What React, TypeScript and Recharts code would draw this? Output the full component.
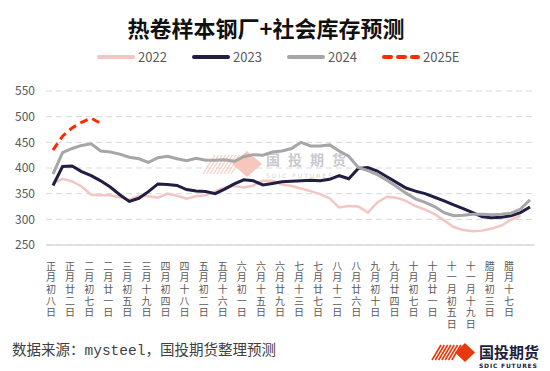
import React from 'react';
import { LineChart, Line, XAxis, YAxis, CartesianGrid, Legend } from 'recharts';

// 农历周度，每两周标一个
const weeks = [
  '正月初八日', '正月十五日', '正月廿二日', '正月廿九日', '二月初七日', '二月十四日',
  '二月廿一日', '二月廿八日', '三月初五日', '三月十二日', '三月十九日', '三月廿六日',
  '四月初四日', '四月十一日', '四月十八日', '四月廿五日', '五月初二日', '五月初九日',
  '五月十六日', '五月廿三日', '六月初一日', '六月初八日', '六月十五日', '六月廿二日',
  '六月廿九日', '七月初六日', '七月十三日', '七月二十日', '七月廿七日', '八月初五日',
  '八月十二日', '八月十九日', '八月廿六日', '九月初三日', '九月初十日', '九月十七日',
  '九月廿四日', '十月初一日', '十月初七日', '十月十四日', '十月廿一日', '十月廿八日',
  '十一月初五日', '十一月十二日', '十一月十九日', '十一月廿六日', '腊月初三日', '腊月初十日',
  '腊月十七日', '腊月廿四日', '腊月三十日',
];

const y2022 = [
  370, 379, 374, 364, 348, 347, 347, 343, 338, 346, 345, 342, 350, 346, 340, 345, 347,
  354, 362, 365, 362, 366, 375, 375, 368, 365, 360, 355, 349, 341, 323, 326, 325, 313,
  333, 344, 342, 336, 326, 319, 310, 298, 285, 279, 277, 278, 282, 288, 299, 307,
];

const y2023 = [
  366, 403, 404, 393, 385, 375, 363, 348, 335, 341, 354, 369, 368, 366, 358, 355, 354,
  350, 359, 369, 377, 375, 367, 370, 373, 374, 375, 376, 375, 378, 385, 379, 399, 401,
  394, 383, 372, 361, 355, 350, 343, 336, 328, 321, 313, 305, 303, 304, 307, 313, 324,
];

const y2024 = [
  388, 430, 438, 444, 447, 433, 431, 427, 421, 418, 411, 420, 423, 418, 414, 419, 415,
  415, 416, 413, 422, 426, 425, 431, 433, 438, 450, 443, 443, 445, 433, 423, 401, 395,
  387, 376, 364, 351, 340, 333, 325, 313, 307, 308, 310, 310, 309, 310, 312, 320, 338,
];

const y2025E = [435, 462, 478, 489, 497, 487];

const yTicks = [250, 300, 350, 400, 450, 500, 550];

const series = [
  { key: 'y2022', name: '2022', color: '#F3C6C3', width: 2.5, dash: undefined },
  { key: 'y2023', name: '2023', color: '#201E42', width: 3, dash: undefined },
  { key: 'y2024', name: '2024', color: '#A6A6A6', width: 3, dash: undefined },
  { key: 'y2025E', name: '2025E', color: '#FF2A00', width: 3, dash: '8 5' },
];

const data = weeks.map((w, i) => ({
  week: w,
  y2022: y2022[i] ?? null,
  y2023: y2023[i] ?? null,
  y2024: y2024[i] ?? null,
  y2025E: y2025E[i] ?? null,
}));

const FONT = "'Noto Sans CJK SC', 'Noto Sans', sans-serif";

// 竖排标签
const VerticalTick = (props: any) => {
  const { x, y, payload } = props;
  if (payload.value === weeks[weeks.length - 1]) return <g />;
  return (
    <text
      x={x - 2}
      y={y + 14}
      fontSize={10}
      fill="#595959"
      fontFamily={FONT}
      letterSpacing={1.6}
      style={{ writingMode: 'vertical-rl' }}
    >
      {payload.value}
    </text>
  );
};

const LegendBox = () => (
  <div style={{ display: 'flex', paddingLeft: 97, fontFamily: FONT, fontSize: 13, color: '#595959', lineHeight: '16px' }}>
    {series.map((s) => (
      <div key={s.key} style={{ display: 'flex', alignItems: 'center', width: 95 }}>
        <svg width={38} height={8}>
          <line x1={2} y1={4} x2={36} y2={4} stroke={s.color} strokeWidth={4} strokeLinecap="round" strokeDasharray={s.dash ? '7 7' : undefined} />
        </svg>
        <span style={{ marginLeft: 3 }}>{s.name}</span>
      </div>
    ))}
  </div>
);

const Watermark = () => (
  <svg width={550} height={371} style={{ position: 'absolute', left: 0, top: 0 }}>
    <g stroke="#F8C9BE" strokeWidth={1.2} opacity={0.9}>
      {[0, 1, 2, 3, 4, 5, 6, 7, 8].map((k) => (
        <line key={k} x1={203 + k * 3.5} y1={174} x2={215 + k * 3.5} y2={155} />
      ))}
    </g>
    <polygon points="247,151 262,164 247,177 232,164" fill="#F8C6BA" />
    <text x={266} y={165} fontSize={14} fontWeight="bold" letterSpacing={8} fill="#C9C9CF" fontFamily={FONT}>国投期货</text>
    <text x={266} y={178} fontSize={6} letterSpacing={2} fill="#D3D3D8" fontFamily="'DejaVu Sans', sans-serif">SDIC FUTURES</text>
  </svg>
);

const Logo = () => (
  <svg width={120} height={30} style={{ position: 'absolute', left: 430, top: 340 }}>
    <g stroke="#E8380D" strokeWidth={1.6}>
      {[0, 1, 2, 3, 4, 5, 6].map((k) => (
        <line key={k} x1={2 + k * 3.3} y1={20} x2={11 + k * 3.3} y2={5} />
      ))}
    </g>
    <polygon points="35,3 45,12.5 35,22 25,12.5" fill="#E8380D" />
    <text x={49} y={18} fontSize={15} fontWeight="bold" fill="#1E1C3C" fontFamily={FONT}>国投期货</text>
    <text x={49} y={28} fontSize={6} fontWeight="bold" letterSpacing={0.8} fill="#1E1C3C" fontFamily="'DejaVu Sans', sans-serif">SDIC FUTURES</text>
  </svg>
);

export default function App() {
  return (
    <div style={{ position: 'absolute', left: 0, top: 0, width: 550, height: 371, background: '#fff', fontFamily: FONT }}>
      <Watermark />
      <div style={{ position: 'absolute', left: 0, top: 11, width: 532, textAlign: 'center', fontSize: 22, fontWeight: 'bold', color: '#111' }}>
        热卷样本钢厂+社会库存预测
      </div>
      <div style={{ position: 'absolute', left: 0, top: 0 }}>
        <LineChart width={550} height={371} data={data} margin={{ top: 75, right: 15, left: 0, bottom: 0 }}>
          <CartesianGrid vertical={false} stroke="#D9D9D9" strokeDasharray="6 4" />
          <XAxis
            dataKey="week"
            interval={1}
            height={126}
            tick={<VerticalTick />}
            tickLine={false}
            tickSize={0}
            axisLine={{ stroke: '#D9D9D9', strokeWidth: 1.5 }}
            padding={{ left: 7, right: 5 }}
          />
          <YAxis
            domain={[250, 550]}
            ticks={yTicks}
            width={46}
            axisLine={false}
            tickLine={false}
            tickSize={0}
            tickMargin={11}
            tick={{ fill: '#595959', fontSize: 12, fontFamily: FONT }}
          />
          <Legend verticalAlign="top" wrapperStyle={{ top: 49, left: 0, width: 550 }} content={() => <LegendBox />} />
          {series.map((s) => (
            <Line
              key={s.key}
              type="linear"
              dataKey={s.key}
              name={s.name}
              stroke={s.color}
              strokeWidth={s.width}
              strokeDasharray={s.dash}
              dot={false}
              connectNulls={false}
              isAnimationActive={false}
            />
          ))}
        </LineChart>
      </div>
      <div style={{ position: 'absolute', left: 12, top: 338, fontSize: 14.5, color: '#404040', whiteSpace: 'nowrap' }}>
        数据来源：<span style={{ fontFamily: "'Liberation Mono', monospace" }}>mysteel</span>，国投期货整理预测
      </div>
      <Logo />
    </div>
  );
}
